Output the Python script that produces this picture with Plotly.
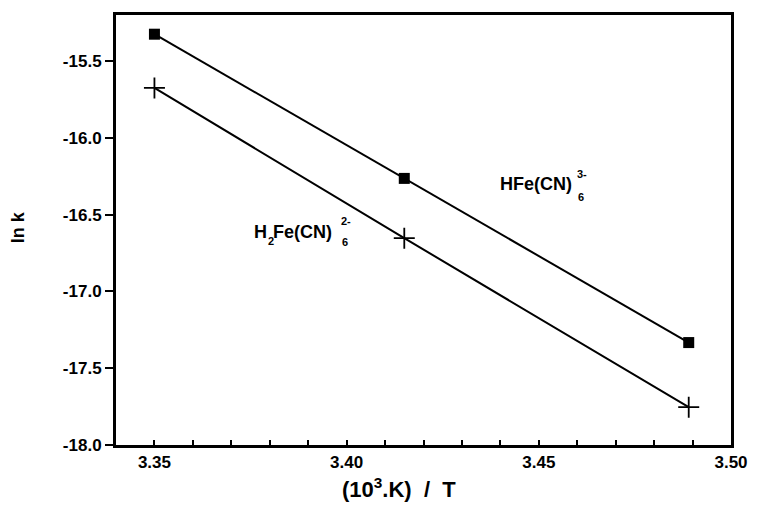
import plotly.graph_objects as go

# Arrhenius data: inverse temperature (10^3 K / T) vs ln k
inv_T = [3.350, 3.415, 3.489]
ln_k_hfe = [-15.325, -16.264, -17.333]     # HFe(CN)6 3-
ln_k_h2fe = [-15.675, -16.653, -17.754]    # H2Fe(CN)6 2-

x_ticks = [3.35, 3.40, 3.45, 3.50]
y_ticks = [-18.0, -17.5, -17.0, -16.5, -16.0, -15.5]

FONT = "Liberation Sans, Arial, sans-serif"


def txt(size):
    return dict(family=FONT, size=size, color="black", weight="bold")


fig = go.Figure()
fig.add_trace(go.Scatter(
    x=inv_T, y=ln_k_hfe, mode="lines+markers",
    line=dict(color="black", width=2),
    marker=dict(symbol="square", size=11, color="black"),
    showlegend=False))
fig.add_trace(go.Scatter(
    x=inv_T, y=ln_k_h2fe, mode="lines+markers",
    line=dict(color="black", width=2),
    marker=dict(symbol="cross-thin", size=15, color="black",
                line=dict(color="black", width=1.8)),
    showlegend=False))

fig.update_xaxes(
    range=[3.34, 3.50], tickvals=x_ticks, ticktext=[f"{v:.2f}" for v in x_ticks],
    ticks="inside", ticklen=5, tickwidth=1.5, tickcolor="black",
    minor=dict(dtick=0.01, tick0=3.34, ticks="inside", ticklen=5, tickwidth=1.5, tickcolor="black"),
    showline=True, linewidth=3, linecolor="black", mirror=True,
    showgrid=False, zeroline=False,
    tickfont=txt(17))
fig.update_yaxes(
    range=[-18.0, -15.2], tickvals=y_ticks, ticktext=[f"{v:.1f}" for v in y_ticks],
    ticks="outside", ticklen=8, tickwidth=1.5, tickcolor="black",
    showline=True, linewidth=3, linecolor="black", mirror=True,
    showgrid=False, zeroline=False,
    tickfont=txt(17))

annotations = [
    # axis titles
    dict(text="(10<sup>3</sup>.K)  /  T", xref="paper", yref="paper", x=0.46, y=-0.0995,
         xanchor="center", yanchor="middle", showarrow=False, font=txt(22)),
    dict(text="ln k", xref="paper", yref="paper", x=-0.159, y=0.507, textangle=-90,
         xanchor="center", yanchor="middle", showarrow=False, font=txt(18)),
    # series labels with stacked sub/superscripts
    dict(text="HFe(CN)", x=3.4395, y=-16.302, xanchor="left", yanchor="middle",
         showarrow=False, font=txt(18)),
    dict(text="3-", x=3.4594, y=-16.237, xanchor="left", yanchor="middle",
         showarrow=False, font=txt(11)),
    dict(text="6", x=3.4597, y=-16.386, xanchor="left", yanchor="middle",
         showarrow=False, font=txt(11)),
    dict(text="H", x=3.3754, y=-16.613, xanchor="left", yanchor="middle",
         showarrow=False, font=txt(18)),
    dict(text="2", x=3.3789, y=-16.671, xanchor="left", yanchor="middle",
         showarrow=False, font=txt(11)),
    dict(text="Fe(CN)", x=3.3803, y=-16.613, xanchor="left", yanchor="middle",
         showarrow=False, font=txt(18)),
    dict(text="2-", x=3.3980, y=-16.542, xanchor="left", yanchor="middle",
         showarrow=False, font=txt(11)),
    dict(text="6", x=3.3983, y=-16.678, xanchor="left", yanchor="middle",
         showarrow=False, font=txt(11)),
]

fig.update_layout(
    width=760, height=505,
    margin=dict(l=116, r=20, t=13, b=60),
    paper_bgcolor="white", plot_bgcolor="white",
    annotations=annotations,
    font=dict(family=FONT, color="black"))

fig.write_html("out.html")
